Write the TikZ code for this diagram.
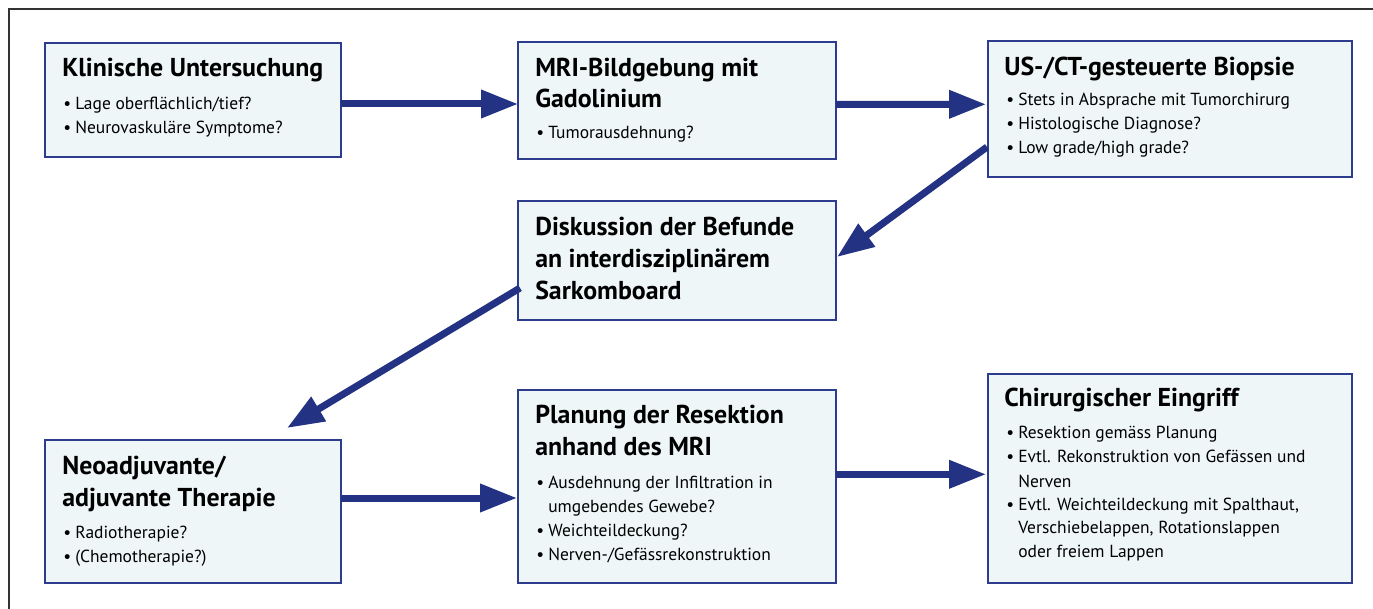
\documentclass[tikz,border=0pt]{standalone}
\usepackage{fontspec}
\setmainfont{PT Sans}
\usetikzlibrary{arrows.meta,calc}
\definecolor{navy}{HTML}{233282}
\definecolor{boxline}{HTML}{2E3C8E}
\definecolor{boxfill}{HTML}{EEF6F8}
\definecolor{frame}{HTML}{333333}
\newcommand\bul{\makebox[9pt][l]{\textbullet}}
\tikzset{
  box/.style={draw=boxline, fill=boxfill, line width=1pt, inner sep=0pt, outer sep=0pt, minimum width=#1},
  ttl/.style={anchor=base west, inner sep=0pt, font=\bfseries\fontsize{19.4}{22}\selectfont},
  body/.style={anchor=base west, inner sep=0pt, font=\fontsize{13.1}{16}\selectfont},
  arr/.style={draw=navy, line width=5.25pt, -{Triangle[length=27.75pt,width=20.25pt]}, fill=navy},
}
\begin{document}
\begin{tikzpicture}[x=0.75pt,y=-0.75pt]
\useasboundingbox (0,0) rectangle (1373,609);
\draw[frame, line width=1.1pt] (9,612) -- (9,9) -- (1376,9);
% boxes
\node[box=222pt, minimum height=85.5pt] (b1) at (193,100) {};
\node[box=238.5pt, minimum height=87.75pt] (b2) at (677,100.5) {};
\node[box=273pt, minimum height=102pt] (b3) at (1170,109) {};
\node[box=238.5pt, minimum height=89.25pt] (b4) at (677,260.5) {};
\node[box=222pt, minimum height=107.25pt] (b5) at (193,511.5) {};
\node[box=238.5pt, minimum height=144.75pt] (b6) at (677,486.5) {};
\node[box=273pt, minimum height=156.75pt] (b7) at (1170,478.5) {};
% box 1
\node[ttl] (t1) at (62,77) {Klinische Untersuchung};
\node[body] (t1a) at (63,110) {\bul Lage oberflächlich/tief?};
\node[body] (t1b) at (63,134) {\bul Neurovaskuläre Symptome?};
% box 2
\node[ttl] (t2) at (535,77) {MRI-Bildgebung mit};
\node[ttl] (t2b) at (535,108) {Gadolinium};
\node[body] (t2c) at (536,139) {\bul Tumorausdehnung?};
% box 3
\node[ttl] (t3) at (1004,76) {US-/CT-gesteuerte Biopsie};
\node[body] (t3a) at (1006,106) {\bul Stets in Absprache mit Tumorchirurg};
\node[body] (t3b) at (1006,130) {\bul Histologische Diagnose?};
\node[body] (t3c) at (1006,154) {\bul Low grade/high grade?};
% box 4
\node[ttl] (t4a) at (535,236) {Diskussion der Befunde};
\node[ttl] (t4b) at (535,268) {an interdisziplinärem};
\node[ttl] (t4c) at (535,300) {Sarkomboard};
% box 5
\node[ttl] (t5a) at (62,474) {Neoadjuvante/};
\node[ttl] (t5b) at (62,506) {adjuvante Therapie};
\node[body] (t5c) at (63,538) {\bul Radiotherapie?};
\node[body] (t5d) at (63,562) {\bul (Chemotherapie?)};
% box 6
\node[ttl] (t6a) at (535,423) {Planung der Resektion};
\node[ttl] (t6b) at (535,455) {anhand des MRI};
\node[body] (t6c) at (536,488) {\bul Ausdehnung der Infiltration in};
\node[body] (t6d) at (548,512) {umgebendes Gewebe?};
\node[body] (t6e) at (536,536) {\bul Weichteildeckung?};
\node[body] (t6f) at (536,560) {\bul Nerven-/Gefässrekonstruktion};
% box 7
\node[ttl] (t7) at (1004,406) {Chirurgischer Eingriff};
\node[body] (t7a) at (1006,438) {\bul Resektion gemäss Planung};
\node[body] (t7b) at (1006,462) {\bul Evtl. Rekonstruktion von Gefässen und};
\node[body] (t7c) at (1018,487) {Nerven};
\node[body] (t7d) at (1006,510) {\bul Evtl. Weichteildeckung mit Spalthaut,};
\node[body] (t7e) at (1018,533) {Verschiebelappen, Rotationslappen};
\node[body] (t7f) at (1018,557) {oder freiem Lappen};
% arrows
\coordinate (e4) at ($(b5.north west)+(242,-12)$);
\draw[arr] ($(b1.east)+(0,4)$) -- ($(b2.west)+(0,3.5)$);
\draw[arr] ($(b2.east)+(0,3.8)$) -- ($(b3.west)+(-2,-4.7)$);
\draw[arr] ($(b3.west)+(-1,38)$) -- ($(b4.east)+(1,-3.5)$);
\draw[arr] ($(b4.west)+(2,27.5)$) -- (e4);
\draw[arr] ($(b5.east)+(0,-13.5)$) -- ($(b6.west)+(-1,11.5)$);
\draw[arr] ($(b6.east)+(0,-12.2)$) -- ($(b7.west)+(-2,-4.2)$);
\end{tikzpicture}
\end{document}
